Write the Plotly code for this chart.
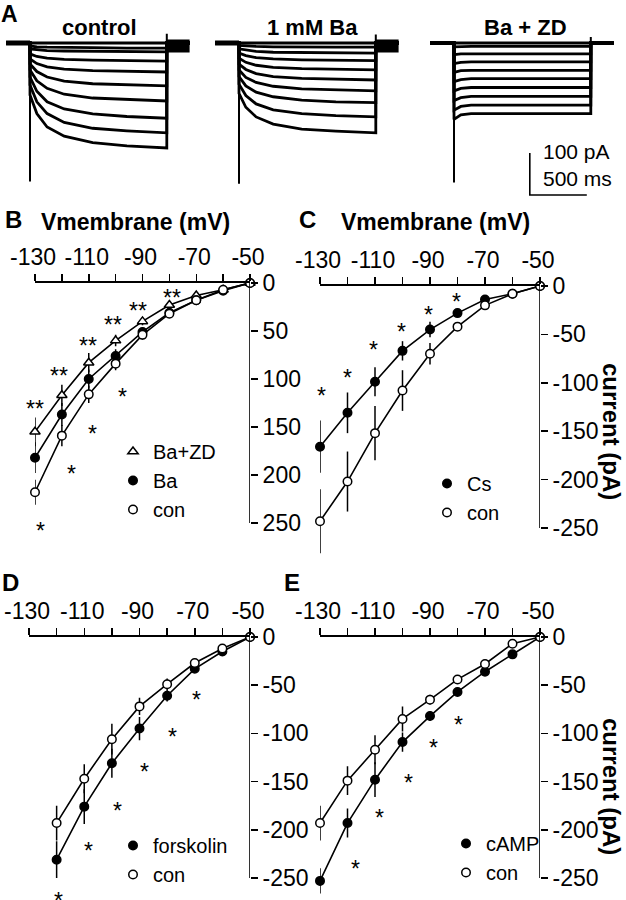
import plotly.graph_objects as go

W, H = 626, 900
FONT = "Liberation Sans, Arial, sans-serif"

# ---------------- DATA ----------------
# Panel A: current traces (pA) sampled at T_MS after the voltage step
T_MS = [0, 60, 150, 300, 550, 850, 1200]
PRE_MS = -210
STEP_MS = 1200
TAIL_MS = 200
CTRL_TRACES = [
    [0, 0, 0, 0, 0, 0, 0],
    [-7, -9, -10, -11, -11, -12, -12],
    [-14, -16, -18, -19, -20, -21, -21],
    [-26, -32, -36, -39, -41, -42, -43],
    [-38, -49, -57, -62, -66, -68, -69],
    [-50, -68, -81, -91, -97, -100, -102],
    [-64, -90, -108, -122, -131, -135, -138],
    [-81, -115, -140, -157, -169, -175, -179],
    [-100, -140, -168, -189, -203, -209, -214],
    [-124, -168, -200, -222, -237, -245, -250],
]
BA_TRACES = [
    [0, 0, 0, 0, 0, 0, 0],
    [-6, -7, -8, -9, -10, -10, -10],
    [-14, -17, -20, -22, -23, -24, -24],
    [-24, -30, -35, -38, -40, -41, -42],
    [-36, -46, -53, -58, -61, -63, -64],
    [-50, -63, -73, -80, -84, -86, -88],
    [-64, -82, -94, -103, -109, -112, -114],
    [-80, -102, -117, -128, -136, -140, -142],
    [-98, -125, -145, -159, -168, -173, -176],
    [-120, -153, -176, -193, -205, -210, -214],
]
ZD_TRACES = [
    [0, 0, 0, 0, 0, 0, 0],
    [-9, -8, -8, -8, -8, -8, -8],
    [-28, -26, -26, -26, -26, -26, -26],
    [-49, -46, -45, -45, -45, -45, -45],
    [-70, -66, -65, -65, -65, -65, -65],
    [-92, -87, -85, -85, -85, -85, -85],
    [-114, -108, -106, -106, -106, -106, -106],
    [-137, -130, -127, -127, -127, -127, -127],
    [-160, -151, -148, -148, -148, -148, -148],
    [-182, -171, -168, -168, -168, -168, -168],
]
CAP_ON_PA = [-330, -335, -332]
CAP_OFF_PA = [22, 20, 14]
TAIL_BAND_PA = [-7, -7, None]
A_TITLES = ["control", "1 mM Ba", "Ba + ZD"]
SCALE_PA = 100
SCALE_MS = 500

V_TICKS = [-130, -120, -110, -100, -90, -80, -70, -60, -50]
V_LABELS = ["-130", "", "-110", "", "-90", "", "-70", "", "-50"]
I_TICKS = [0, -50, -100, -150, -200, -250]
I_LABELS_B = ["0", "50", "100", "150", "200", "250"]
I_LABELS = ["0", "-50", "-100", "-150", "-200", "-250"]

V_MV = [-130, -120, -110, -100, -90, -80, -70, -60, -50]
V_MV_D = [-120, -110, -100, -90, -80, -70, -60, -50]

# Panel B
B_BAZD = [-155, -117, -83, -60, -40, -23, -13, -7, 0]
B_BAZD_ERR = [15, 11, 10, 6, 4, 3, 2, 1, 0]
B_BA = [-182, -137, -100, -76, -51, -31, -18, -8, 0]
B_BA_ERR = [16, 12, 10, 7, 5, 3, 2, 1, 0]
B_CON = [-218, -159, -116, -84, -54, -32, -18, -7, 0]
B_CON_ERR = [13, 11, 9, 7, 5, 3, 2, 1, 0]
B_STAR_TXT = ["**", "**", "**", "**", "**", "**", "*", "*", "*", "*"]
B_STAR_X = [-130, -121, -110.2, -100.9, -91.6, -79.1, -128.1, -116.3, -108.5, -97.5]
B_STAR_Y = [-125, -91, -59, -37, -23, -9, -252, -193, -151, -112]

# Panel C
C_CS = [-166, -131, -99, -67, -45, -28, -14, -8, 0]
C_CS_ERR = [27, 21, 15, 10, 8, 3, 2, 1, 0]
C_CON = [-243, -202, -152, -108, -70, -42, -20, -8, 0]
C_CON_ERR = [33, 31, 28, 21, 11, 4, 3, 2, 0]
C_STAR_X = [-129.6, -120, -110.4, -100.5, -90.7, -80.5]
C_STAR_Y = [-107, -89, -60, -41, -24, -10]

# Panel D
D_FSK = [-231, -176, -131, -95, -61, -33, -15, 0]
D_FSK_ERR = [19, 18, 15, 12, 6, 3, 2, 0]
D_CON = [-193, -147, -106, -72, -49, -27, -12, 0]
D_CON_ERR = [18, 15, 16, 9, 6, 3, 2, 0]
D_STAR_X = [-119.5, -108.6, -98, -88.3, -78, -69.5]
D_STAR_Y = [-268, -216, -174, -134, -97.5, -59]

# Panel E
E_CAMP = [-253, -193, -148, -109, -82, -57, -36, -18, 0]
E_CAMP_ERR = [13, 15, 18, 10, 5, 3, 2, 1, 0]
E_CON = [-193, -149, -117, -85, -65, -44, -28, -7, 0]
E_CON_ERR = [18, 15, 15, 13, 5, 3, 2, 1, 0]
E_STAR_X = [-117, -108.5, -98, -88.9, -79.5]
E_STAR_Y = [-234, -181.5, -145, -109, -85]

# ---------------- LAYOUT HELPERS ----------------
def dx(p0, p1):
    return [p0 / W, p1 / W]

def dy(top, bot):
    return [max(0.0, 1 - bot / H), min(1.0, 1 - top / H)]

def px_x(p):
    return p / W

def px_y(p):
    return 1 - p / H

fig = go.Figure()
ann = []
shapes = []

# ---------------- PANEL A ----------------
K_MS = 57.0 / 500.0   # px per ms
K_PA = 42.0 / 100.0   # px per pA
A_STEP_PX = [30, 239, 454]
A_BASE_PX = 43
A_T_RANGE = [-250, 1450]
A_I_RANGE = [-430, 80]
a_xaxes = ["x", "x2", "x3"]
a_layout_keys = ["xaxis", "xaxis2", "xaxis3"]
groups = [CTRL_TRACES, BA_TRACES, ZD_TRACES]
layout_axes = {}
for gi in range(3):
    p = A_STEP_PX[gi]
    layout_axes[a_layout_keys[gi]] = dict(
        domain=dx(p + A_T_RANGE[0] * K_MS, p + A_T_RANGE[1] * K_MS),
        range=A_T_RANGE, visible=False, anchor="y", fixedrange=True)
layout_axes["yaxis"] = dict(
    domain=dy(A_BASE_PX - A_I_RANGE[1] * K_PA, A_BASE_PX - A_I_RANGE[0] * K_PA),
    range=A_I_RANGE, visible=False, anchor="x", fixedrange=True)

for gi, traces in enumerate(groups):
    xa = a_xaxes[gi]
    fig.add_trace(go.Scatter(x=[PRE_MS, 0], y=[0, 0], xaxis=xa, yaxis="y", mode="lines",
                             line=dict(color="black", width=5 if gi < 2 else 3),
                             showlegend=False, hoverinfo="skip"))
    for tr in traces:
        xs = [PRE_MS, 0] + T_MS + [STEP_MS, STEP_MS + TAIL_MS]
        ys = [0, 0] + tr + [0, 0]
        fig.add_trace(go.Scatter(x=xs, y=ys, xaxis=xa, yaxis="y", mode="lines",
                                 line=dict(color="black", width=2.8),
                                 showlegend=False, hoverinfo="skip"))
    fig.add_trace(go.Scatter(x=[0, 0], y=[0, CAP_ON_PA[gi]], xaxis=xa, yaxis="y", mode="lines",
                             line=dict(color="black", width=2), showlegend=False, hoverinfo="skip"))
    fig.add_trace(go.Scatter(x=[STEP_MS, STEP_MS], y=[0, CAP_OFF_PA[gi]], xaxis=xa, yaxis="y",
                             mode="lines", line=dict(color="black", width=2),
                             showlegend=False, hoverinfo="skip"))
    if TAIL_BAND_PA[gi] is not None:
        fig.add_trace(go.Scatter(x=[STEP_MS, STEP_MS + TAIL_MS], y=[TAIL_BAND_PA[gi]] * 2,
                                 xaxis=xa, yaxis="y", mode="lines",
                                 line=dict(color="black", width=13),
                                 showlegend=False, hoverinfo="skip"))

SB_T0 = 665
SB_I0 = -362
fig.add_trace(go.Scatter(x=[SB_T0, SB_T0, SB_T0 + SCALE_MS], y=[SB_I0 + SCALE_PA, SB_I0, SB_I0],
                         xaxis="x3", yaxis="y", mode="lines",
                         line=dict(color="black", width=1.6), showlegend=False, hoverinfo="skip"))
ann.append(dict(text=f"{SCALE_PA} pA", x=px_x(541), y=px_y(151), xref="paper", yref="paper",
                xanchor="left", yanchor="middle", showarrow=False, font=dict(size=21)))
ann.append(dict(text=f"{SCALE_MS} ms", x=px_x(541), y=px_y(178), xref="paper", yref="paper",
                xanchor="left", yanchor="middle", showarrow=False, font=dict(size=21)))

A_TITLE_X = [99, 312, 525]
for gi in range(3):
    ann.append(dict(text=f"<b>{A_TITLES[gi]}</b>", x=px_x(A_TITLE_X[gi]), y=px_y(27),
                    xref="paper", yref="paper", xanchor="center", yanchor="middle",
                    showarrow=False, font=dict(size=22)))

# ---------------- PANELS B-E ----------------
# (x axis index, y axis index, x px domain, y px of 0 and of -250, y tick labels, lowest y)
panels = [
    (4, 2, (35, 250), (283, 523), I_LABELS_B, -285),
    (5, 3, (320, 540), (286, 528), I_LABELS, -285),
    (6, 4, (29, 250), (637, 878), I_LABELS, -270),
    (7, 5, (320, 540), (637, 878), I_LABELS, -270),
]
for xk, yk, xd, yd, ylab, ylo in panels:
    kpx = (yd[1] - yd[0]) / 250.0
    ybot = yd[0] + (-ylo) * kpx
    layout_axes[f"xaxis{xk}"] = dict(
        domain=dx(*xd), range=[-130, -50], anchor=f"y{yk}", side="top",
        showline=True, linecolor="black", linewidth=1.6, ticks="outside", ticklen=7,
        tickwidth=1.5, tickcolor="black", tickvals=V_TICKS, ticktext=V_LABELS,
        showgrid=False, zeroline=False, tickfont=dict(size=23, color="black"),
        ticklabelshift=-2, fixedrange=True)
    layout_axes[f"yaxis{yk}"] = dict(
        domain=dy(yd[0], ybot), range=[ylo, 0], anchor=f"x{xk}", side="right",
        showline=False, ticks="outside", ticklen=7,
        tickwidth=1.5, tickcolor="black", tickvals=I_TICKS, ticktext=ylab,
        showgrid=False, zeroline=False, tickfont=dict(size=23, color="black"), fixedrange=True)
    shapes.append(dict(type="line", xref=f"x{xk}", yref=f"y{yk}", x0=V_TICKS[-1], x1=V_TICKS[-1],
                       y0=I_TICKS[0], y1=I_TICKS[-1], line=dict(color="black", width=1.6)))

def add_series(xk, yk, xs, ys, err, symbol, fill, name, legend):
    fig.add_trace(go.Scatter(x=xs, y=ys, xaxis=f"x{xk}", yaxis=f"y{yk}", mode="lines",
                             line=dict(color="black", width=1.6), showlegend=False,
                             hoverinfo="skip", cliponaxis=False))
    fig.add_trace(go.Scatter(x=xs, y=ys, xaxis=f"x{xk}", yaxis=f"y{yk}", mode="markers",
                             name=name, legend=legend, cliponaxis=False,
                             marker=dict(symbol=symbol, size=9 if "triangle" in symbol else 8.5,
                                         color=fill, line=dict(color="black", width=1.5)),
                             error_y=dict(type="data", array=err, visible=True, color="black",
                                          thickness=1.5, width=0)))

add_series(4, 2, V_MV, B_BAZD, B_BAZD_ERR, "triangle-up", "white", "Ba+ZD", "legend")
add_series(4, 2, V_MV, B_BA, B_BA_ERR, "circle", "black", "Ba", "legend")
add_series(4, 2, V_MV, B_CON, B_CON_ERR, "circle", "white", "con", "legend")
add_series(5, 3, V_MV, C_CS, C_CS_ERR, "circle", "black", "Cs", "legend2")
add_series(5, 3, V_MV, C_CON, C_CON_ERR, "circle", "white", "con", "legend2")
add_series(6, 4, V_MV_D, D_FSK, D_FSK_ERR, "circle", "black", "forskolin", "legend3")
add_series(6, 4, V_MV_D, D_CON, D_CON_ERR, "circle", "white", "con", "legend3")
add_series(7, 5, V_MV, E_CAMP, E_CAMP_ERR, "circle", "black", "cAMP", "legend4")
add_series(7, 5, V_MV, E_CON, E_CON_ERR, "circle", "white", "con", "legend4")

STAR_SHIFT = -6
for (xk, yk, xs, ys, txt) in [
    (4, 2, B_STAR_X, B_STAR_Y, B_STAR_TXT),
    (5, 3, C_STAR_X, C_STAR_Y, ["*"] * len(C_STAR_X)),
    (6, 4, D_STAR_X, D_STAR_Y, ["*"] * len(D_STAR_X)),
    (7, 5, E_STAR_X, E_STAR_Y, ["*"] * len(E_STAR_X)),
]:
    for sx, sy, st in zip(xs, ys, txt):
        ann.append(dict(text=st, x=sx, y=sy, xref=f"x{xk}", yref=f"y{yk}", showarrow=False,
                        xanchor="center", yanchor="middle", yshift=STAR_SHIFT,
                        font=dict(size=23)))

ann.append(dict(text="<b>A</b>", x=0, y=1, xref="paper", yref="paper", xanchor="left",
                yanchor="top", showarrow=False, borderpad=0, font=dict(size=23)))
for letter, px, py in [("B", 3, 219), ("C", 297, 219), ("D", 0, 582), ("E", 282, 582)]:
    ann.append(dict(text=f"<b>{letter}</b>", x=px_x(px), y=px_y(py), xref="paper", yref="paper",
                    xanchor="left", yanchor="middle", showarrow=False, font=dict(size=24)))
for cx in [135, 435]:
    ann.append(dict(text="<b>Vmembrane (mV)</b>", x=px_x(cx), y=px_y(222), xref="paper",
                    yref="paper", xanchor="center", yanchor="middle", showarrow=False,
                    font=dict(size=23)))
for cy in [431, 786]:
    ann.append(dict(text="<b>current (pA)</b>", x=px_x(612), y=px_y(cy), xref="paper",
                    yref="paper", xanchor="center", yanchor="middle", textangle=90,
                    showarrow=False, font=dict(size=24)))

def leg(xp, yp):
    return dict(x=px_x(xp), y=px_y(yp), xanchor="left", yanchor="top",
                bgcolor="rgba(0,0,0,0)", font=dict(size=20, color="black", family=FONT),
                traceorder="normal", itemwidth=30, tracegroupgap=0, borderwidth=0)

fig.update_layout(
    width=W, height=H, margin=dict(l=0, r=0, t=0, b=0, autoexpand=False),
    paper_bgcolor="white", plot_bgcolor="rgba(0,0,0,0)",
    font=dict(family=FONT, color="black", size=20),
    annotations=ann, shapes=shapes,
    legend=leg(113, 432), legend2=leg(427, 464), legend3=leg(113, 826), legend4=leg(446, 824),
    **layout_axes,
)

fig.write_html("out.html", config={"displayModeBar": False, "staticPlot": True},
               post_script="document.body.style.margin='0';document.body.style.overflow='hidden';")
